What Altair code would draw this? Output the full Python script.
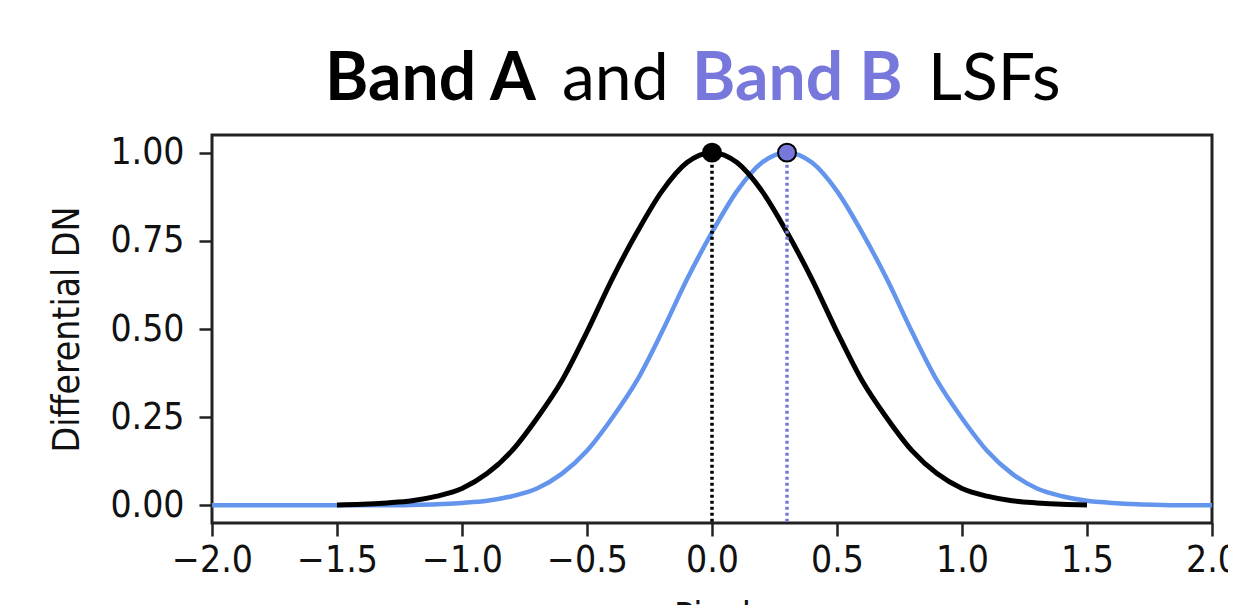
import altair as alt
import pandas as pd

# ---- data ----
black_x = [-1.5, -1.4, -1.3, -1.2, -1.1, -1.0, -0.9, -0.8, -0.7, -0.6, -0.5, -0.4, -0.3, -0.2, -0.1,
           0.0, 0.1, 0.2, 0.3, 0.4, 0.5, 0.6, 0.7, 0.8, 0.9, 1.0, 1.1, 1.2, 1.3, 1.4, 1.5]
black_y = [0.001, 0.003, 0.007, 0.013, 0.026, 0.048, 0.090, 0.155, 0.247, 0.354, 0.492, 0.641, 0.774, 0.891, 0.972,
           1.000, 0.972, 0.891, 0.774, 0.641, 0.492, 0.354, 0.247, 0.155, 0.090, 0.048, 0.026, 0.013, 0.007, 0.003, 0.001]

blue_x = [-2.0, -1.9, -1.8, -1.7, -1.6, -1.5, -1.4, -1.3, -1.2, -1.1, -1.0, -0.9, -0.8, -0.7, -0.6, -0.5,
          -0.4, -0.3, -0.2, -0.1, 0.0, 0.1, 0.2, 0.3, 0.4, 0.5, 0.6, 0.7, 0.8, 0.9, 1.0, 1.1, 1.2, 1.3,
          1.4, 1.5, 1.6, 1.7, 1.8, 1.9, 2.0]
blue_y = [0.0, 0.0, 0.0, 0.0, 0.0, 0.0, 0.0, 0.0, 0.001, 0.003, 0.007, 0.013, 0.026, 0.048, 0.090, 0.155,
          0.247, 0.354, 0.492, 0.641, 0.774, 0.891, 0.972, 1.000, 0.972, 0.891, 0.774, 0.641, 0.492, 0.354,
          0.247, 0.155, 0.090, 0.048, 0.026, 0.013, 0.007, 0.003, 0.001, 0.0, 0.0]

peak_x = [0.0, 0.3]
peak_y = [1.0, 1.0]
peak_fill = ["#000000", "#7878DC"]
peak_stroke = ["#000000", "#000000"]
rule_color = ["#000000", "#7878DC"]

x_ticks = [-2.0, -1.5, -1.0, -0.5, 0.0, 0.5, 1.0, 1.5, 2.0]
y_ticks = [0.0, 0.25, 0.5, 0.75, 1.0]
x_domain = [-2.0, 2.0]
y_domain = [-0.05, 1.05]

title_parts = ["Band A", "and", "Band B", "LSFs"]
title_colors = ["#000000", "#000000", "#7878DC", "#000000"]
title_weights = ["bold", "normal", "bold", "normal"]
title_left = [113, 350, 480, 716]

x_title = "Pixel"
y_title = "Differential DN"

# ---- tables ----
black_df = pd.DataFrame({"x": black_x, "y": black_y})
blue_df = pd.DataFrame({"x": blue_x, "y": blue_y})
peak_df = pd.DataFrame({"x": peak_x, "y": peak_y, "y0": [y_domain[0]] * 2,
                        "fill": peak_fill, "stroke": peak_stroke, "rc": rule_color})

TICK_FONT = "DejaVu Sans Condensed, DejaVu Sans"
FRAME = "#222222"

xs = alt.Scale(domain=x_domain, nice=False, zero=False)
ys = alt.Scale(domain=y_domain, nice=False, zero=False)

x_axis = alt.Axis(values=x_ticks, format=".1f", grid=False, domain=False,
                  tickSize=13, tickWidth=2.5, tickColor=FRAME,
                  labelFont=TICK_FONT, labelFontSize=37, labelColor="#111111",
                  labelPadding=6, labelFlush=False,
                  title=x_title, titleFont=TICK_FONT, titleFontSize=37, titleFontWeight="normal",
                  titleColor="#111111", titleBaseline="top", titleY=76)
y_axis = alt.Axis(values=y_ticks, format=".2f", grid=False, domain=False,
                  tickSize=13, tickWidth=2.5, tickColor=FRAME,
                  labelFont=TICK_FONT, labelFontSize=37, labelColor="#111111",
                  labelPadding=15, labelFlush=False,
                  title=y_title, titleFont=TICK_FONT, titleFontSize=37, titleFontWeight="normal",
                  titleColor="#111111", titleX=-145, titleY=194, titleAlign="center",
                  titleBaseline="middle", titleAngle=270)

blue_line = alt.Chart(blue_df).mark_line(color="#6495ED", strokeWidth=4.5, interpolate="monotone").encode(
    x=alt.X("x:Q", scale=xs, axis=x_axis),
    y=alt.Y("y:Q", scale=ys, axis=y_axis),
)
black_line = alt.Chart(black_df).mark_line(color="#000000", strokeWidth=5, interpolate="monotone").encode(
    x=alt.X("x:Q", scale=xs),
    y=alt.Y("y:Q", scale=ys),
)
rules = alt.Chart(peak_df).mark_rule(strokeDash=[3, 3], strokeWidth=3.5).encode(
    x=alt.X("x:Q", scale=xs),
    y=alt.Y("y:Q", scale=ys),
    y2="y0:Q",
    color=alt.Color("rc:N", scale=None),
)
points = alt.Chart(peak_df).mark_point(shape="circle", filled=True, size=320, strokeWidth=2, opacity=1).encode(
    x=alt.X("x:Q", scale=xs),
    y=alt.Y("y:Q", scale=ys),
    fill=alt.Fill("fill:N", scale=None),
    stroke=alt.Stroke("stroke:N", scale=None),
)

title_layers = []
for t, c, w, xl in zip(title_parts, title_colors, title_weights, title_left):
    title_layers.append(
        alt.Chart(pd.DataFrame({"t": [t]})).mark_text(
            font="Lato", fontSize=66, fontWeight=w, color=c, align="left", baseline="alphabetic"
        ).encode(x=alt.value(xl), y=alt.value(-35), text="t:N")
    )

chart = alt.layer(blue_line, black_line, rules, points, *title_layers).properties(
    width=1000, height=388,
    background="white",
    autosize=alt.AutoSizeParams(type="none"),
    padding={"left": 204, "top": 127, "right": 16, "bottom": 82},
).configure_view(stroke=FRAME, strokeWidth=3)

chart.save("out.html", embed_options={"renderer": "svg", "actions": False})
